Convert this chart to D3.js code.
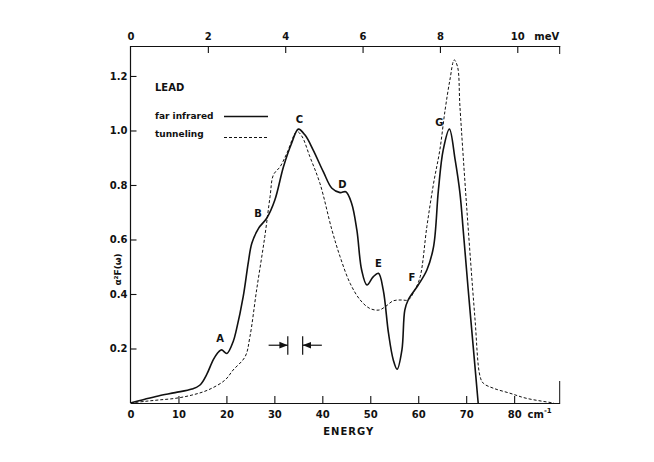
<!DOCTYPE html>
<html>
<head>
<meta charset="utf-8">
<script src="https://cdn.jsdelivr.net/npm/d3@7"></script>
<style>
  body { margin: 0; background: #fff; }
  svg { display: block; }
  text { font-family: "DejaVu Sans", sans-serif; fill: #111; }
</style>
</head>
<body>
<div id="chart"></div>
<script>
// ---- data (energy in cm^-1, alpha^2 F(omega)) ----
const farInfraredE = [0, 3, 5.8, 9.3, 12.8, 14.5, 15.9, 17.3, 18.4, 19.0, 20.1, 21.4, 22.1, 23.5, 24.6, 25.3, 26.7, 28.4, 30.1, 31.9, 33.6, 35.0, 36.4, 38.1, 40.2, 42.0, 43.7, 44.9, 46.1, 47.2, 48.2, 49.3, 50.6, 51.7, 52.7, 53.8, 54.8, 55.6, 56.6, 57.2, 57.9, 60.0, 61.8, 63.2, 64.2, 65.2, 66.5, 67.7, 68.7, 69.4, 70.4, 71.8, 72.5];
const farInfraredV = [0, 0.014, 0.026, 0.038, 0.051, 0.066, 0.105, 0.160, 0.188, 0.195, 0.182, 0.225, 0.27, 0.39, 0.52, 0.586, 0.641, 0.678, 0.745, 0.867, 0.953, 1.005, 0.983, 0.928, 0.849, 0.788, 0.772, 0.775, 0.733, 0.635, 0.488, 0.433, 0.463, 0.476, 0.415, 0.256, 0.158, 0.124, 0.195, 0.341, 0.378, 0.433, 0.488, 0.574, 0.78, 0.928, 1.005, 0.892, 0.77, 0.63, 0.42, 0.14, 0];

const tunnelingE = [0, 3, 5.8, 9.3, 12.8, 16.2, 19.7, 21.4, 23.9, 24.9, 26.3, 28.0, 29.1, 29.8, 31.2, 32.6, 34.7, 35.7, 37.4, 39.5, 42.0, 43.7, 45.8, 47.9, 49.9, 51.8, 53.1, 54.8, 56.6, 57.9, 59.3, 60.4, 61.8, 63.2, 64.5, 65.6, 66.6, 67.5, 68.2, 68.7, 70.1, 71.8, 72.9, 73.6, 75.7, 79.1, 82.6, 88.3];
const tunnelingV = [0, 0.006, 0.011, 0.017, 0.029, 0.048, 0.084, 0.121, 0.170, 0.243, 0.415, 0.61, 0.757, 0.837, 0.867, 0.916, 0.996, 0.98, 0.904, 0.806, 0.635, 0.537, 0.439, 0.378, 0.347, 0.341, 0.353, 0.375, 0.378, 0.378, 0.415, 0.463, 0.647, 0.806, 0.928, 1.075, 1.185, 1.259, 1.234, 1.087, 0.72, 0.317, 0.097, 0.072, 0.054, 0.036, 0.017, 0];

const cmTicks = [0, 10, 20, 30, 40, 50, 60, 70, 80];
const meVTicks = [0, 2, 4, 6, 8, 10];
const yTicks = [0.2, 0.4, 0.6, 0.8, 1.0, 1.2];

const peakLabels = ["A", "B", "C", "D", "E", "F", "G"];
const peakLabelE = [18.7, 26.6, 35.2, 44.2, 51.7, 58.7, 64.4];
const peakLabelV = [0.238, 0.696, 1.040, 0.800, 0.511, 0.460, 1.030];

const resolutionE = [32.8, 35.9];   // resolution bar (cm^-1)
const CM_PER_MEV = 8.0655;

// ---- layout ----
const W = 654, H = 462;
const svg = d3.select("#chart").append("svg").attr("width", W).attr("height", H);

const x = d3.scaleLinear().domain([0, 89.5]).range([130.5, 559.7]);
const xm = d3.scaleLinear().domain([0, 89.5 / CM_PER_MEV]).range([130.5, 559.7]);
const y = d3.scaleLinear().domain([0, 1.31]).range([403, 46]);

const ink = "#111";

// axes (ticks point inward)
const gB = svg.append("g").attr("transform", `translate(0,${y(0)})`)
  .call(d3.axisBottom(x).tickValues(cmTicks).tickSize(-7).tickSizeOuter(0).tickPadding(8));
const gT = svg.append("g").attr("transform", `translate(0,${y(1.31)})`)
  .call(d3.axisTop(xm).tickValues(meVTicks).tickSize(-7).tickSizeOuter(0).tickPadding(6));
const gL = svg.append("g").attr("transform", `translate(${x(0)},0)`)
  .call(d3.axisLeft(y).tickValues(yTicks).tickFormat(d3.format(".1f")).tickSize(-6).tickSizeOuter(0).tickPadding(3));

[gB, gT, gL].forEach(g => {
  g.selectAll("path.domain").attr("stroke", ink).attr("stroke-width", 1.2);
  g.selectAll(".tick line").attr("stroke", ink).attr("stroke-width", 1.1);
  g.selectAll(".tick text").attr("fill", ink).style("font-size", "10px").style("font-weight", "bold")
    .style("font-family", "DejaVu Sans, sans-serif");
});
gL.select("path.domain").attr("d", `M0,${y(0)}V${y(1.31)}`);
gB.selectAll(".tick").filter(d => d === 0).select("line").remove();
gT.selectAll(".tick").filter(d => d === 0).select("line").remove();

// right frame stubs
svg.append("line").attr("x1", x(89.5)).attr("x2", x(89.5)).attr("y1", y(1.31)).attr("y2", y(1.31) + 8)
  .attr("stroke", ink).attr("stroke-width", 1);
svg.append("line").attr("x1", x(89.5)).attr("x2", x(89.5)).attr("y1", y(0) - 22).attr("y2", y(0))
  .attr("stroke", ink).attr("stroke-width", 1);

// unit labels
svg.append("text").attr("x", x(82.8)).attr("y", 418).style("font-size", "10px").style("font-weight", "bold")
  .text("cm").append("tspan").attr("dy", -5).style("font-size", "7px").text("-1");
svg.append("text").attr("x", xm(10) + 17).attr("y", 40).style("font-size", "10px").style("font-weight", "bold").text("meV");
svg.append("text").attr("x", x(45.5)).attr("y", 435).attr("text-anchor", "middle")
  .style("font-size", "10px").style("font-weight", "bold").style("letter-spacing", "1px").text("ENERGY");
svg.append("text").attr("transform", `translate(121,${y(0.49)}) rotate(-90)`).attr("text-anchor", "middle")
  .style("font-size", "9px").style("font-weight", "bold").text("α²F(ω)");

// curves
const line = d3.line().x(d => x(d[0])).y(d => y(d[1])).curve(d3.curveCatmullRom.alpha(0.5));
svg.append("path").datum(tunnelingE.map((e, i) => [e, tunnelingV[i]]))
  .attr("d", line).attr("fill", "none").attr("stroke", ink).attr("stroke-width", 1)
  .attr("stroke-dasharray", "3,2");
svg.append("path").datum(farInfraredE.map((e, i) => [e, farInfraredV[i]]))
  .attr("d", line).attr("fill", "none").attr("stroke", ink).attr("stroke-width", 1.6);

// peak labels
svg.selectAll("text.peak").data(peakLabels).enter().append("text").attr("class", "peak")
  .attr("x", (d, i) => x(peakLabelE[i])).attr("y", (d, i) => y(peakLabelV[i]))
  .attr("text-anchor", "middle").attr("dy", "0.35em")
  .style("font-size", "10px").style("font-weight", "bold").text(d => d);

// legend
svg.append("text").attr("x", 155).attr("y", 91).style("font-size", "10px").style("font-weight", "bold").text("LEAD");
svg.append("text").attr("x", 155).attr("y", 119).style("font-size", "9px").style("font-weight", "bold").text("far infrared");
svg.append("text").attr("x", 155).attr("y", 137).style("font-size", "9px").style("font-weight", "bold").text("tunneling");
svg.append("line").attr("x1", 224).attr("x2", 268).attr("y1", 116.5).attr("y2", 116.5).attr("stroke", ink).attr("stroke-width", 1.4);
svg.append("line").attr("x1", 224).attr("x2", 268).attr("y1", 137.5).attr("y2", 137.5).attr("stroke", ink).attr("stroke-width", 1).attr("stroke-dasharray", "3,2");

// resolution marker
const defs = svg.append("defs");
defs.append("marker").attr("id", "ah").attr("viewBox", "0 0 10 10").attr("refX", 10).attr("refY", 5)
  .attr("markerWidth", 7).attr("markerHeight", 7).attr("orient", "auto")
  .append("path").attr("d", "M0,1 L10,5 L0,9 Z").attr("fill", ink);
const ry = y(0.212);
resolutionE.forEach(e => {
  svg.append("line").attr("x1", x(e)).attr("x2", x(e)).attr("y1", y(0.245)).attr("y2", y(0.177))
    .attr("stroke", ink).attr("stroke-width", 1.2);
});
svg.append("line").attr("x1", x(28.8)).attr("x2", x(resolutionE[0])).attr("y1", ry).attr("y2", ry)
  .attr("stroke", ink).attr("stroke-width", 1.2).attr("marker-end", "url(#ah)");
svg.append("line").attr("x1", x(39.9)).attr("x2", x(resolutionE[1])).attr("y1", ry).attr("y2", ry)
  .attr("stroke", ink).attr("stroke-width", 1.2).attr("marker-end", "url(#ah)");
</script>
</body>
</html>
